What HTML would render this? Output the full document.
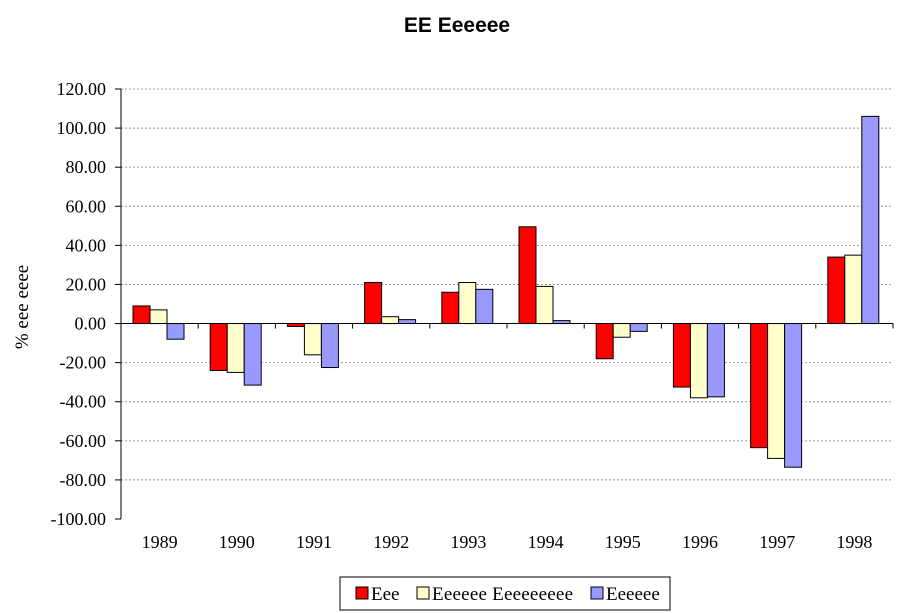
<!DOCTYPE html>
<html><head><meta charset="utf-8"><style>
body{margin:0;background:#fff;}
svg{display:block;}
</style></head><body>
<svg id="chart" width="901" height="613" xmlns="http://www.w3.org/2000/svg">
<rect width="901" height="613" fill="#fff"/>
<text x="457" y="32" text-anchor="middle" font-family="Liberation Sans, sans-serif" font-weight="bold" font-size="21">EE Eeeeee</text>
<text transform="translate(28,307) rotate(-90)" text-anchor="middle" font-family="Liberation Serif, serif" font-size="19">% eee eeee</text>
<g id="grid"></g><g id="bars"></g><g id="axes"></g>
<g>
<rect x="340" y="577" width="330" height="33" fill="#fff" stroke="#000"/>
<g><rect x="356" y="587" width="12" height="12" fill="#ff0000" stroke="#000"/><text x="371" y="600" font-family="Liberation Serif, serif" font-size="19">Eee</text></g>
<g><rect x="417" y="587" width="12" height="12" fill="#ffffcc" stroke="#000"/><text x="432" y="600" font-family="Liberation Serif, serif" font-size="19" textLength="141">Eeeeee Eeeeeeeee</text></g>
<g><rect x="591" y="587" width="12" height="12" fill="#9999ff" stroke="#000"/><text x="606" y="600" font-family="Liberation Serif, serif" font-size="19">Eeeeee</text></g>
</g>
</svg>
<script>
const categories=["1989","1990","1991","1992","1993","1994","1995","1996","1997","1998"];
const seriesA=[9,-24,-1.5,21,16,49.5,-18,-32.5,-63.5,34];
const seriesB=[7,-25,-16,3.5,21,19,-7,-38,-69,35];
const seriesC=[-8,-31.5,-22.5,2,17.5,1.5,-4,-37.5,-73.5,106];
const yTicks=[120,100,80,60,40,20,0,-20,-40,-60,-80,-100];
const ns="http://www.w3.org/2000/svg";
const X0=121,X1=893,YT=89,YB=519,vMax=120,vMin=-100;
const y=v=>YT+(vMax-v)/(vMax-vMin)*(YB-YT);
const cw=(X1-X0)/categories.length;
function mk(tag,attrs,parent){const e=document.createElementNS(ns,tag);for(const k in attrs)e.setAttribute(k,attrs[k]);parent.appendChild(e);return e;}
const grid=document.getElementById('grid'),bars=document.getElementById('bars'),axes=document.getElementById('axes');
yTicks.forEach(t=>{
 if(t>vMin){const l=mk('line',{x1:X0,x2:X1,y1:y(t),y2:y(t),stroke:'#999','stroke-dasharray':'2,2','stroke-width':1},grid);
 
 }
 mk('line',{x1:X0-6,x2:X0,y1:y(t),y2:y(t),stroke:'#000'},axes);
 const tx=mk('text',{x:X0-15,y:y(t)+6,'text-anchor':'end','font-family':'Liberation Serif, serif','font-size':18},axes);
 tx.textContent=t.toFixed(2);
 
 
});
const series=[[seriesA,'#ff0000','eee'],[seriesB,'#ffffcc','eeeeee-eeeeeeeee'],[seriesC,'#9999ff','eeeeee']];
const bw=17,off=12;
categories.forEach((c,i)=>{
 const cx=X0+i*cw;
 series.forEach((s,j)=>{
  const v=s[0][i];const top=Math.min(y(v),y(0));const h=Math.abs(y(v)-y(0));
  const r=mk('rect',{x:cx+off+j*bw,y:top,width:bw,height:h,fill:s[1],stroke:'#000','stroke-width':1},bars);
  
  
 });
 const tx=mk('text',{x:cx+cw/2,y:y(vMin)+29,'text-anchor':'middle','font-family':'Liberation Serif, serif','font-size':18},axes);
 tx.textContent=c;
 
 
 mk('line',{x1:cx,x2:cx,y1:y(0),y2:y(0)+5,stroke:'#000'},axes);
});
mk('line',{x1:X1,x2:X1,y1:y(0),y2:y(0)+5,stroke:'#000'},axes);
mk('line',{x1:X0,x2:X0,y1:YT,y2:YB,stroke:'#000'},axes);
mk('line',{x1:X0,x2:X1,y1:y(0),y2:y(0),stroke:'#000'},axes);
</script>
</body></html>
